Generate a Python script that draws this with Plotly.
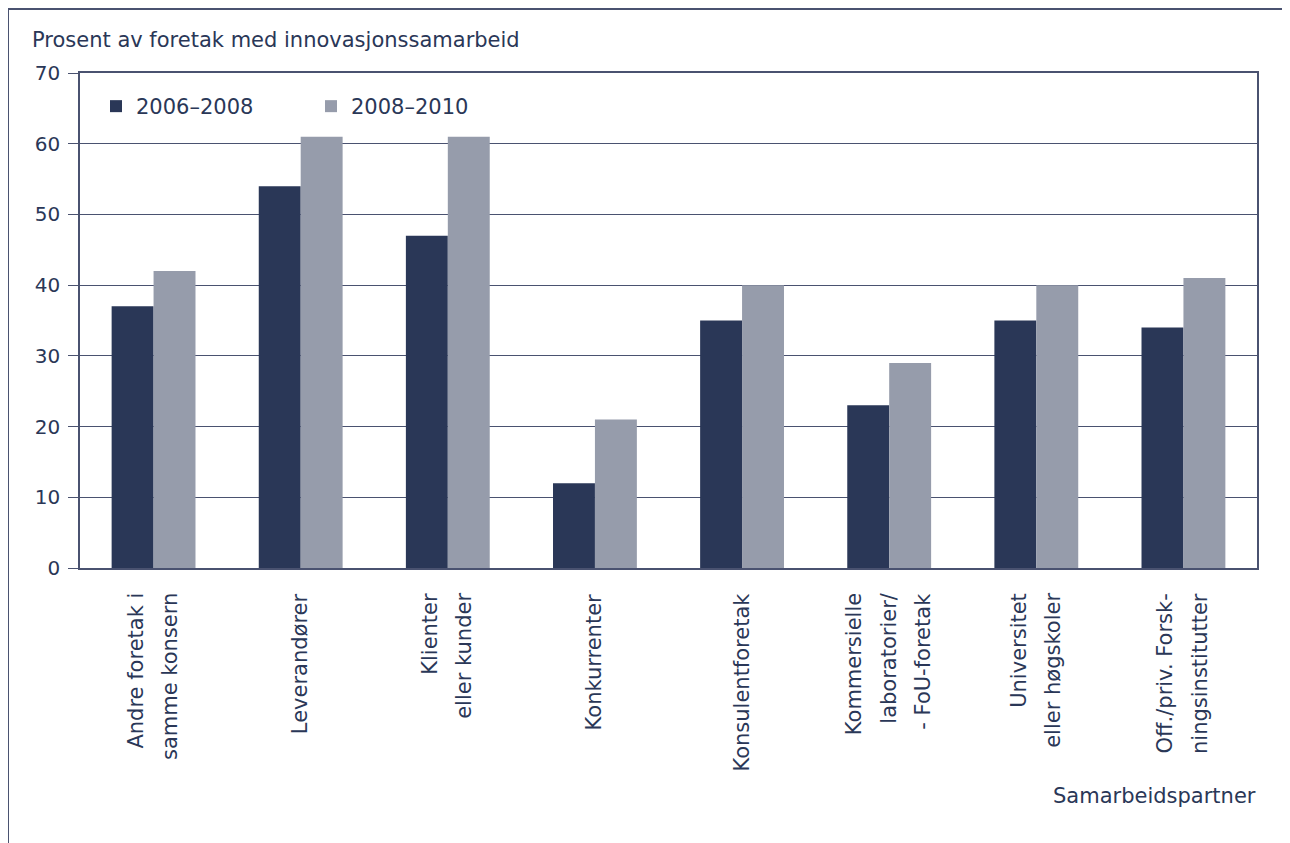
import plotly.graph_objects as go

categories = ["Andre foretak i samme konsern", "Leverandører", "Klienter eller kunder",
              "Konkurrenter", "Konsulentforetak", "Kommersielle laboratorier/ - FoU-foretak",
              "Universitet eller høgskoler", "Off./priv. Forskningsinstitutter"]
label_lines = [["Andre foretak i", "samme konsern"], ["Leverandører"], ["Klienter", "eller kunder"],
               ["Konkurrenter"], ["Konsulentforetak"], ["Kommersielle", "laboratorier/", "- FoU-foretak"],
               ["Universitet", "eller høgskoler"], ["Off./priv. Forsk-", "ningsinstitutter"]]
series_names = ["2006–2008", "2008–2010"]
values_2006_2008 = [37, 54, 47, 12, 35, 23, 35, 34]
values_2008_2010 = [42, 61, 61, 21, 40, 29, 40, 41]
y_title = "Prosent av foretak med innovasjonssamarbeid"
x_title = "Samarbeidspartner"

DARK = "#2A3757"
GREY = "#969CAB"
TEXT = "#2A3757"
LINE = "#4A5270"
FONT = "DejaVu Sans"
FS = 21

OFF = 8  # page body margin
W, H = 1290 - OFF, 843 - OFF
L, R, T, B = 80 - OFF, 1257 - OFF, 73 - OFF, 568 - OFF
pw, ph = R - L, B - T


def px(x):
    return (x - OFF - L) / pw


def py(y):
    return (B - (y - OFF)) / ph


fig = go.Figure()
fig.add_trace(go.Bar(x=categories, y=values_2006_2008, name=series_names[0],
                     marker=dict(color=DARK, line=dict(width=0))))
fig.add_trace(go.Bar(x=categories, y=values_2008_2010, name=series_names[1],
                     marker=dict(color=GREY, line=dict(width=0))))

annotations = []
spacing = 34
for cat, lines in zip(categories, label_lines):
    n = len(lines)
    for i, ln in enumerate(lines):
        annotations.append(dict(
            x=cat, xref="x", y=0, yref="paper", yshift=-23,
            xshift=(i - (n - 1) / 2) * spacing - 1,
            text=ln, textangle=-90, showarrow=False,
            xanchor="center", yanchor="top",
            font=dict(family=FONT, size=FS, color=TEXT)))

annotations.append(dict(x=px(30), y=py(40), xref="paper", yref="paper", text=y_title,
                        showarrow=False, xanchor="left", yanchor="middle",
                        font=dict(family=FONT, size=FS, color=TEXT)))
annotations.append(dict(x=px(1258), y=py(796), xref="paper", yref="paper", text=x_title,
                        showarrow=False, xanchor="right", yanchor="middle",
                        font=dict(family=FONT, size=FS, color=TEXT)))

shapes = [
    dict(type="line", xref="paper", yref="paper", x0=px(7), x1=px(1300), y0=py(9), y1=py(9),
         line=dict(color=LINE, width=2)),
    dict(type="line", xref="paper", yref="paper", x0=px(8), x1=px(8), y0=py(9), y1=py(850),
         line=dict(color=LINE, width=2)),
]

fig.update_layout(
    width=W, height=H,
    margin=dict(l=L, r=W - R, t=T, b=H - B, pad=0),
    paper_bgcolor="white", plot_bgcolor="white",
    barmode="group", bargap=0.43, bargroupgap=0,
    font=dict(family=FONT, size=FS, color=TEXT),
    showlegend=True,
    legend=dict(orientation="h", x=px(96), y=py(86), xanchor="left", yanchor="top",
                bgcolor="rgba(0,0,0,0)", font=dict(family=FONT, size=FS, color=TEXT),
                entrywidth=170, traceorder="normal"),
    annotations=annotations, shapes=shapes,
)
fig.update_xaxes(showticklabels=False, ticks="", showline=True, mirror=True,
                 linecolor=LINE, linewidth=1.5, showgrid=False)
fig.update_yaxes(range=[0, 70], dtick=10, ticks="outside", ticklen=10, tickcolor=LINE,
                 showline=True, mirror=True, linecolor=LINE, linewidth=1.5,
                 showgrid=True, gridcolor=LINE, gridwidth=1, zeroline=False,
                 ticklabelstandoff=4,
                 tickfont=dict(family=FONT, size=20, color=TEXT))

fig.write_html("out.html")
